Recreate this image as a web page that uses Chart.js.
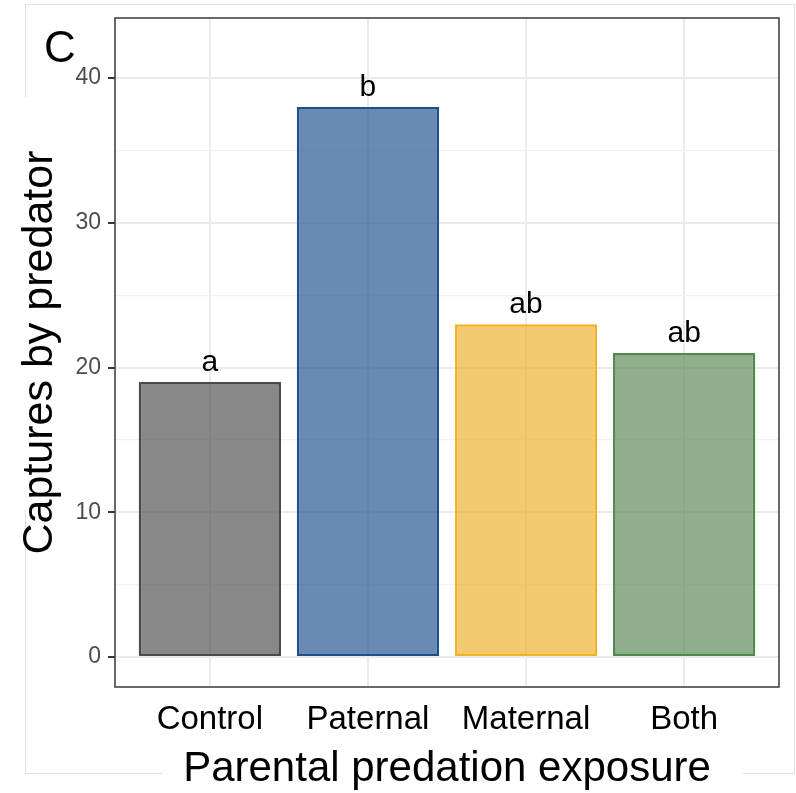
<!DOCTYPE html>
<html>
<head>
<meta charset="utf-8">
<script src="https://cdn.jsdelivr.net/npm/chart.js@4.4.0/dist/chart.umd.min.js"></script>
<style>
  html, body { margin: 0; padding: 0; background: #ffffff; }
  #wrap { position: relative; width: 796px; height: 793px; }
  canvas { display: block; }
</style>
</head>
<body>
<div id="wrap"><canvas id="c" width="796" height="793"></canvas></div>
<script>
// ---- data ----
const categories = ["Control", "Paternal", "Maternal", "Both"];
const captures = [19, 38, 23, 21];
const letters = ["a", "b", "ab", "ab"];
const yTicks = [0, 5, 10, 15, 20, 25, 30, 35, 40];
const panelLabel = "C";

// ---- styles ----
const baseColors = ["#565656", "#2a5992", "#ecb533", "#5f8b5b"];
const borderColors = ["#4a4a4a", "#1f4e8c", "#f0b323", "#4f8a4c"];
function withAlpha(hex, a) {
  const r = parseInt(hex.slice(1,3),16), g = parseInt(hex.slice(3,5),16), b = parseInt(hex.slice(5,7),16);
  return `rgba(${r},${g},${b},${a})`;
}
const FONT = "'Liberation Sans', Arial, Helvetica, sans-serif";

const framePlugin = {
  id: 'frame',
  beforeDraw(chart) {
    const ctx = chart.ctx;
    ctx.save();
    ctx.strokeStyle = '#e0e0e0';
    ctx.lineWidth = 1;
    ctx.beginPath();
    // outer figure frame (partly hidden by titles)
    ctx.moveTo(25.5, 97); ctx.lineTo(25.5, 4.5); ctx.lineTo(794.5, 4.5); ctx.lineTo(794.5, 773.5);
    ctx.lineTo(743, 773.5);
    ctx.moveTo(163, 773.5); ctx.lineTo(25.5, 773.5); ctx.lineTo(25.5, 510);
    ctx.stroke();
    ctx.restore();
  },
  afterDatasetsDraw(chart) {
    const ctx = chart.ctx;
    const a = chart.chartArea;
    ctx.save();
    // letters above bars
    const meta = chart.getDatasetMeta(0);
    ctx.fillStyle = '#000';
    ctx.font = `30px ${FONT}`;
    ctx.textAlign = 'center';
    ctx.textBaseline = 'alphabetic';
    meta.data.forEach((bar, i) => {
      ctx.fillText(letters[i], bar.x, bar.y - 11);
    });
    // panel border
    ctx.strokeStyle = '#444444';
    ctx.lineWidth = 1.6;
    ctx.strokeRect(a.left, a.top, a.right - a.left, a.bottom - a.top);
    // panel tag
    ctx.font = `44px ${FONT}`;
    ctx.textAlign = 'left';
    ctx.fillText(panelLabel, 44, 62);
    ctx.restore();
  }
};

new Chart(document.getElementById('c'), {
  type: 'bar',
  data: {
    datasets: [{
      data: categories.map((c, i) => ({ x: i + 1, y: captures[i] })),
      backgroundColor: baseColors.map(c => withAlpha(c, 0.7)),
      borderColor: borderColors,
      borderWidth: 2.5,
      borderSkipped: false,
      categoryPercentage: 0.9,
      barPercentage: 1.0
    }]
  },
  options: {
    responsive: false,
    animation: false,
    devicePixelRatio: 1,
    layout: { padding: { left: 0, top: 18, right: 17, bottom: 0 } },
    plugins: { legend: { display: false }, tooltip: { enabled: false } },
    scales: {
      x: {
        type: 'linear',
        min: 0.4, max: 4.6,
        offset: false,
        afterBuildTicks: s => { s.ticks = categories.map((c, i) => ({ value: i + 1 })); },
        afterFit: s => { s.height = 106; s.paddingLeft = 0; s.paddingRight = 0; },
        ticks: {
          callback: v => categories[v - 1] || '',
          font: { family: FONT, size: 33 },
          color: '#000',
          padding: 13,
          maxRotation: 0,
          autoSkip: false
        },
        grid: { color: '#ebebeb', lineWidth: 2, drawTicks: false, offset: false },
        border: { display: false },
        title: {
          display: true,
          text: 'Parental predation exposure',
          font: { family: FONT, size: 42, lineHeight: 1.0 },
          color: '#000',
          padding: { top: 0, bottom: 3 }
        }
      },
      y: {
        min: -2.07, max: 44.15,
        afterBuildTicks: s => { s.ticks = yTicks.map(v => ({ value: v })); },
        afterFit: s => { s.width = 115; s.paddingTop = 0; s.paddingBottom = 0; },
        ticks: {
          callback: v => (v % 10 === 0 ? String(v) : ''),
          font: { family: FONT, size: 23 },
          color: '#4d4d4d',
          padding: 7
        },
        grid: {
          color: ctx => (ctx.tick && ctx.tick.value % 10 === 0 ? '#ebebeb' : '#f2f2f2'),
          lineWidth: ctx => (ctx.tick && ctx.tick.value % 10 === 0 ? 2 : 1.2),
          tickColor: ctx => (ctx.tick && ctx.tick.value % 10 === 0 ? '#333333' : 'rgba(0,0,0,0)'),
          tickLength: 7,
          tickWidth: 2
        },
        border: { display: false },
        title: {
          display: true,
          text: 'Captures by predator',
          font: { family: FONT, size: 43, lineHeight: 1.2 },
          color: '#000',
          padding: { top: 14, bottom: 0 }
        }
      }
    }
  },
  plugins: [framePlugin]
});
</script>
</body>
</html>
